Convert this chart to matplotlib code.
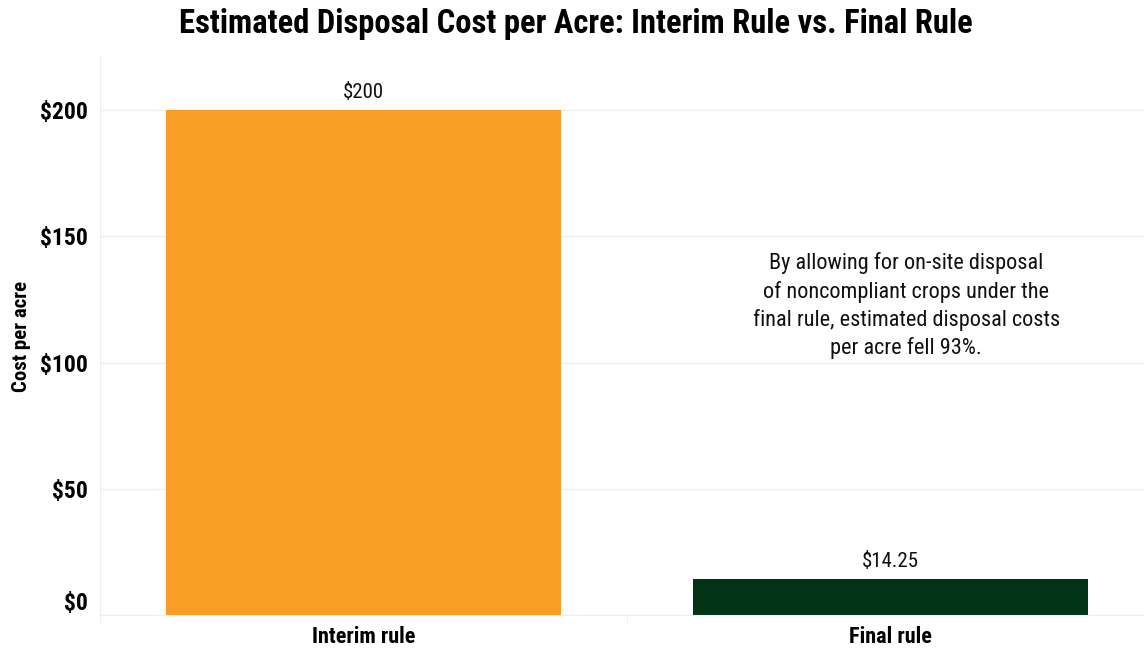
import matplotlib
matplotlib.use("Agg")
import matplotlib.pyplot as plt
from matplotlib.ticker import FuncFormatter

# data
rules = ["Interim rule", "Final rule"]
cost = [200, 14.25]
value_labels = ["$200", "$14.25"]
colors = ["#f99d25", "#013314"]
yticks = [0, 50, 100, 150, 200]
note = ("By allowing for on-site disposal\nof noncompliant crops under the\n"
        "final rule, estimated disposal costs\nper acre fell 93%.")

plt.rcParams["font.family"] = ["Roboto Condensed", "Archivo Narrow", "DejaVu Sans"]

fig = plt.figure(figsize=(11.44, 6.49), dpi=100)
ax = fig.add_axes([100 / 1144, 34 / 649, 1054 / 1144, 558 / 649])

x = range(len(rules))
ax.bar(x, cost, width=0.75, color=colors, zorder=2)
ax.set_xlim(-0.5, 1.5)
ax.set_ylim(0, 221)

for i, (v, lab) in enumerate(zip(cost, value_labels)):
    ax.text(i, v + 3, lab, ha="center", va="bottom", fontsize=15, color="#111111")

ax.set_yticks(yticks)
ax.yaxis.set_major_formatter(FuncFormatter(lambda v, p: "$%d" % v))
ax.grid(axis="y", color="#eeeeee", linewidth=1, zorder=0)
ax.tick_params(axis="y", length=0, pad=9, labelsize=17)
ylabels = ax.get_yticklabels()
for lab in ylabels:
    lab.set_fontweight("bold")
# bottom label sits flush above the axis line
ylabels[0].set_verticalalignment("bottom")

ax.set_xticks(x)
ax.set_xticklabels(rules, fontsize=16, fontweight="bold")
ax.set_xticks([-0.5, 0.5, 1.5], minor=True)
ax.tick_params(axis="x", which="major", length=0, pad=8)
ax.tick_params(axis="x", which="minor", length=6, color="#eeeeee")

for s in ["top", "right"]:
    ax.spines[s].set_visible(False)
ax.spines["left"].set_color("#eeeeee")
ax.spines["bottom"].set_color("#eeeeee")

ax.set_ylabel("Cost per acre", fontsize=15, fontweight="bold", labelpad=6.5)

ax.text(1.03, 122.5, note, ha="center", va="center", fontsize=16,
        linespacing=1.37, color="#111111")

fig.suptitle("Estimated Disposal Cost per Acre: Interim Rule vs. Final Rule",
             x=0.503, y=0.988, fontsize=23.5, fontweight="bold", va="top")

fig.savefig("out.png", dpi=100)
